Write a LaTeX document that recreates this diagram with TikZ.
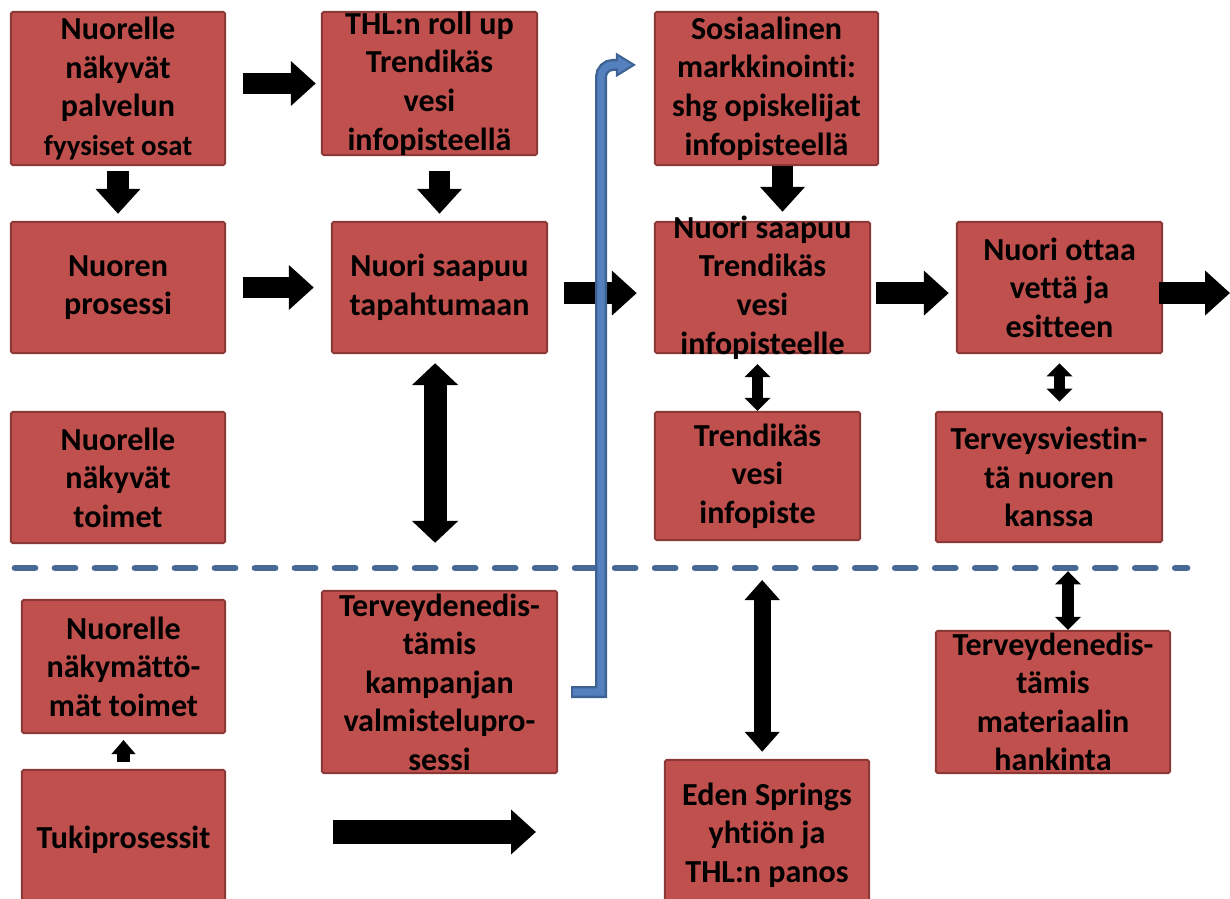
\documentclass[tikz,border=0pt]{standalone}
\usepackage{fontspec}
\setmainfont{Carlito}[Ligatures=NoCommon]
\usetikzlibrary{arrows.meta}
\definecolor{boxred}{RGB}{192,80,77}
\definecolor{boxedge}{RGB}{140,56,54}
\definecolor{sepblue}{RGB}{72,104,150}
\definecolor{flowdark}{RGB}{62,98,148}
\definecolor{flowlight}{RGB}{84,128,190}

\begin{document}
\begin{tikzpicture}[x=0.025cm, y=-0.025cm]
  \tikzstyle{box} = [rectangle, draw=boxedge, fill=boxred, line width=0.05cm, rounded corners=0.04cm, inner sep=0pt]
  \tikzstyle{lbl} = [align=center, inner sep=0pt, text=black, font=\bfseries\fontsize{22.8}{27.4}\selectfont]
  \tikzstyle{fat} = [line width=0.53cm, -{Triangle[length=0.62cm, width=1.08cm]}]
  \tikzstyle{fatboth} = [line width=0.58cm, {Triangle[length=0.55cm, width=1.13cm]}-{Triangle[length=0.55cm, width=1.13cm]}]
  \tikzstyle{midboth} = [line width=0.43cm, {Triangle[length=0.5cm, width=0.85cm]}-{Triangle[length=0.5cm, width=0.85cm]}]
  \tikzstyle{thinboth} = [line width=0.28cm, {Triangle[length=0.33cm, width=0.63cm]}-{Triangle[length=0.33cm, width=0.63cm]}]
  \tikzstyle{thin} = [line width=0.3cm, -{Triangle[length=0.35cm, width=0.58cm]}]
  \tikzstyle{sep} = [draw=sepblue, line width=0.17cm, line cap=round, dash pattern=on 0.5cm off 0.5cm]

  \clip (0,0) rectangle (1230,899);

  % upper rows
  \node [box, minimum width=5.35cm, minimum height=3.825cm, label={[lbl]center:{Nuorelle\\näkyvät\\palvelun\\{\fontsize{20.5}{27.4}\selectfont fyysiset osat}}}] at (118,88.5) (fys) {};
  \node [box, minimum width=5.375cm, minimum height=3.575cm, label={[lbl]center:{THL:n roll up\\Trendikäs\\vesi\\infopisteellä}}] at (429.5,83.5) (rollup) {};
  \node [box, minimum width=5.575cm, minimum height=3.825cm, label={[lbl]center:{Sosiaalinen\\markkinointi:\\shg opiskelijat\\infopisteellä}}] at (766.5,88.5) (sos) {};
  \node [box, minimum width=5.35cm, minimum height=3.275cm, label={[lbl]center:{Nuoren\\prosessi}}] at (118,287.5) (prosessi) {};
  \node [box, minimum width=5.375cm, minimum height=3.275cm, label={[lbl]center:{Nuori saapuu\\tapahtumaan}}] at (439.5,287.5) (tapahtuma) {};
  \node [box, minimum width=5.375cm, minimum height=3.275cm, label={[lbl]center:{Nuori saapuu\\Trendikäs\\vesi\\infopisteelle}}] at (762.5,287.5) (saapuu) {};
  \node [box, minimum width=5.125cm, minimum height=3.275cm, label={[lbl]center:{Nuori ottaa\\vettä ja\\esitteen}}] at (1059.5,287.5) (ottaa) {};
  \node [box, minimum width=5.35cm, minimum height=3.275cm, label={[lbl]center:{Nuorelle\\näkyvät\\toimet}}] at (118,477.5) (nakyvat) {};
  \node [box, minimum width=5.125cm, minimum height=3.2cm, label={[lbl]center:{Trendikäs\\vesi\\infopiste}}] at (757.5,476) (piste) {};
  \node [box, minimum width=5.65cm, minimum height=3.25cm, label={[lbl]center:{Terveysviestin-\\tä nuoren\\kanssa}}] at (1049,477) (viestinta) {};

  % below the line
  \node [box, minimum width=5.075cm, minimum height=3.325cm, label={[lbl]center:{Nuorelle\\näkymättö-\\mät toimet}}] at (123.5,666.5) (nakymaton) {};
  \node [box, minimum width=5.875cm, minimum height=4.55cm, label={[lbl]center:{Terveydenedis-\\tämis\\kampanjan\\valmistelupro-\\sessi}}] at (439.5,682) (kampanja) {};
  \node [box, minimum width=5.85cm, minimum height=3.55cm, label={[lbl]center:{Terveydenedis-\\tämis\\materiaalin\\hankinta}}] at (1053,702) (hankinta) {};
  \node [box, minimum width=5.075cm, minimum height=3.5cm, label={[lbl]center:{Tukiprosessit}}] at (123.5,840) (tuki) {};
  \node [box, minimum width=5.1cm, minimum height=3.75cm, label={[lbl]center:{Eden Springs\\yhtiön ja\\THL:n panos}}] at (767,835) (eden) {};

  \coordinate (sepL) at (15,568);
  \coordinate (sepR) at (1187,568);
  \coordinate (exit) at (1230,293);

  \draw[sep] (sepL) -- (sepR);

  \draw[fat, shorten <=0.43cm, shorten >=0.13cm] (fys.east |- rollup.west) -- (rollup.west);
  \draw[fat, shorten <=0.13cm, shorten >=0.18cm] (fys.south) -- (prosessi.north);
  \draw[fat, shorten <=0.38cm, shorten >=0.18cm] (rollup.south -| tapahtuma.north) -- (tapahtuma.north);
  \draw[fat, shorten <=0.43cm, shorten >=0.43cm] (prosessi) -- (tapahtuma);
  \draw[fat, shorten <=0.4cm, shorten >=0.43cm] ([yshift=-0.14cm]tapahtuma.east) -- ([yshift=-0.14cm]saapuu.west);
  \draw[fat, shorten >=0.23cm] ([xshift=0.4cm]sos.south) -- ([xshift=0.4cm]sos.south |- saapuu.north);
  \draw[fat, shorten <=0.13cm, shorten >=0.18cm] ([yshift=-0.14cm]saapuu.east) -- ([yshift=-0.14cm]saapuu.east -| ottaa.west);
  \draw[fat, shorten <=-0.1cm] (ottaa.east |- exit) -- (exit);

  \draw[fatboth, shorten <=0.23cm, shorten >=0.63cm] ([xshift=-0.11cm]tapahtuma.south) -- ([xshift=-0.11cm]tapahtuma.south |- sepL);
  \draw[thinboth, shorten <=0.25cm] (saapuu.south -| piste.north) -- (piste.north);
  \draw[thinboth, shorten <=0.23cm, shorten >=0.23cm] (ottaa.south) -- (ottaa.south |- viestinta.north);
  \draw[midboth, shorten <=0.3cm, shorten >=0.18cm] ([xshift=-0.12cm]eden.north |- sepL) -- ([xshift=-0.12cm]eden.north);
  \draw[thinboth, shorten <=0.08cm] ([xshift=0.375cm]hankinta.north |- sepL) -- ([xshift=0.375cm]hankinta.north);
  \draw[thin, shorten <=0.18cm, shorten >=0.15cm] (tuki.north) -- (nakymaton.south);
  \draw[fat, line width=0.58cm, shorten <=2.68cm, shorten >=3.2cm] ([yshift=0.2cm]tuki.east) -- ([yshift=0.2cm]tuki.east -| eden.west);

  % blue bent arrow
  \draw[flowdark, line width=0.3cm, shorten <=0.33cm, shorten >=0.45cm, -{Triangle[length=0.5cm, width=0.6cm, fill=flowlight, line width=0.05cm]}] ([yshift=-0.25cm]kampanja.east) -- ++(43,0) [rounded corners=0.3cm] |- ([yshift=0.59cm]sos.west);
  \draw[flowlight, line width=0.18cm, shorten <=0.38cm, shorten >=0.88cm] ([yshift=-0.25cm]kampanja.east) -- ++(43,0) [rounded corners=0.3cm] |- ([yshift=0.59cm]sos.west);
\end{tikzpicture}
\end{document}
